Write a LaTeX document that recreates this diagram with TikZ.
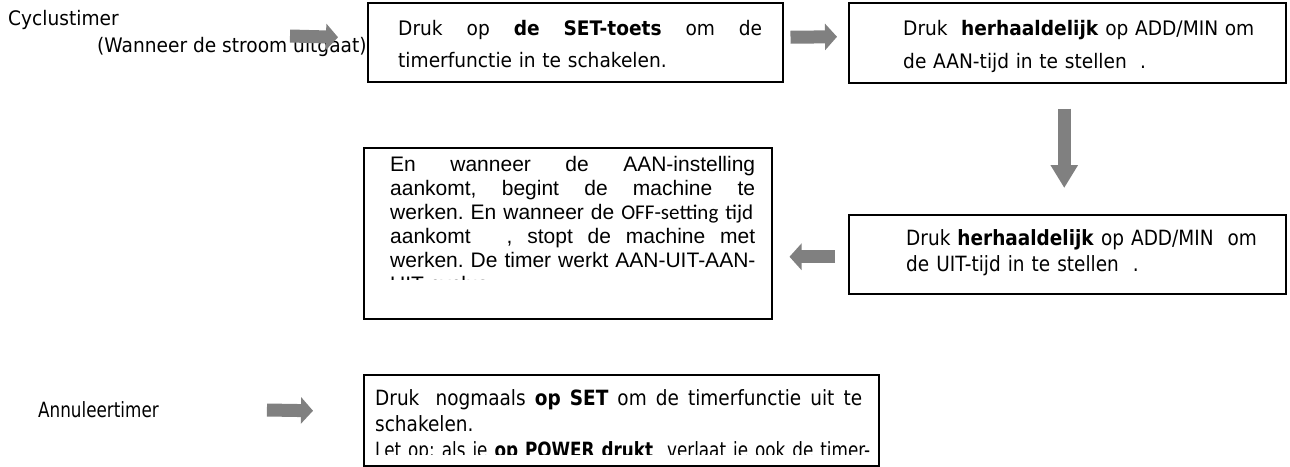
\documentclass[tikz,border=0pt]{standalone}
\usepackage{fontspec}
\setmainfont{Liberation Sans}
\newfontfamily\tahoma[FakeStretch=0.93]{DejaVu Sans}
\newfontfamily\tahomasmal[FakeStretch=0.88]{DejaVu Sans}
\newfontfamily\tahomasmaller[FakeStretch=0.80]{DejaVu Sans}
\newfontfamily\calibri{Carlito}
\usepackage{tikz}
\usetikzlibrary{arrows.meta,positioning}
\definecolor{pijlgrijs}{RGB}{128,128,128}
\newcommand{\jline}[2]{\leavevmode\hbox to #1{#2}}
\frenchspacing

\begin{document}
\begin{tikzpicture}[x=1pt, y=-1pt,
  box/.style={draw, line width=1.5pt, fill=white, anchor=north west, inner sep=0pt},
  txt/.style={anchor=north west, inner sep=0pt, align=left},
  lbl/.style={anchor=west, inner sep=0pt},
  pijl/.style={draw=pijlgrijs, line width=13pt, -{Triangle[length=12pt,width=26pt]}},
  pijlv/.style={draw=pijlgrijs, line width=13pt, -{Triangle[length=23pt,width=26pt]}}]

\useasboundingbox (0,0) rectangle (1290,466);

% Labels links
\node[lbl, font=\tahoma\fontsize{20}{24}\selectfont] (cycl) at (8,20) {Cyclustimer};
\node[lbl, font=\tahoma\fontsize{20}{24}\selectfont] (stroom) at (97,47) {(Wanneer de stroom uitgaat)};
\node[lbl, font=\tahomasmaller\fontsize{21}{24}\selectfont] (annul) at (38,410) {Annuleertimer};

% Kaders
\node[box, minimum width=415pt, minimum height=79pt] (setb) at (367,2) {};
\node[box, minimum width=437pt, minimum height=80pt] (aan) at (848,2) {};
\node[box, minimum width=437pt, minimum height=79pt] (uit) at (848,214) {};
\node[box, minimum width=408pt, minimum height=171pt] (werk) at (363,147) {};
\node[box, minimum width=515pt, minimum height=91pt] (annb) at (363,374) {};

% Teksten
\node[txt, text width=364pt, font=\tahoma\fontsize{20}{32}\selectfont] (settxt) at (398,20)
  {\jline{364pt}{Druk \hfill op \hfill \textbf{de \hfill SET-toets} \hfill om \hfill de}\\
   timerfunctie in te schakelen.};
\node[txt, text width=370pt, font=\tahoma\fontsize{20}{33}\selectfont] (aantxt) at (903,20)
  {Druk\ \ \textbf{herhaaldelijk} op ADD/MIN om\\ de AAN-tijd in te stellen\ \ .};
\node[txt, text width=370pt, font=\tahomasmal\fontsize{21}{26}\selectfont] (uittxt) at (906,229)
  {Druk \textbf{herhaaldelijk} op ADD/MIN\ \ om\\ de UIT-tijd in te stellen\ \ .};
\begin{scope}
  \clip (364,148) rectangle (770,279);
  \node[txt, text width=370pt, font=\fontsize{21}{24}\selectfont] (werktxt) at (390,156.5)
    {\jline{365pt}{En \hfill wanneer \hfill de \hfill AAN-instelling}\\
     \jline{365pt}{aankomt, \hfill begint \hfill de \hfill machine \hfill te}\\
     \mbox{werken. En wanneer de {\calibri OFF-setting tijd}}\\
     \jline{365pt}{aankomt\ \ \ \ \hfill , \hfill stopt \hfill de \hfill machine \hfill met}\\
     \mbox{werken. De timer werkt AAN-UIT-AAN-}\\
     UIT-cyclus.};
\end{scope}
\begin{scope}
  \clip (364,375) rectangle (877,454);
  \node[txt, text width=487pt, font=\tahomasmal\fontsize{21}{26}\selectfont] (annbtxt) at (375,389)
    {\jline{487pt}{Druk\ \ \hfill nogmaals \hfill \textbf{op \hfill SET} \hfill om \hfill de \hfill timerfunctie \hfill uit \hfill te}\\
     schakelen.\\
     {\tahomasmaller\jline{487pt}{Let op: als je \textbf{op POWER drukt}\ \ verlaat je ook de timer-}}};
\end{scope}

% Pijlen
\coordinate (p1) at (290,36);
\draw[pijl] (p1) -- ([shift={(-29,-5)}]setb.west);
\draw[pijl] ([shift={(7,-5)}]setb.east) -- ([shift={(-11,-6)}]aan.west);
\draw[pijlv] ([shift={(-3,25)}]aan.south) -- ([shift={(-3,-26)}]uit.north);
\draw[pijl] ([shift={(-13,2.5)}]uit.west) -- ([shift={(17,23.5)}]werk.east);
\draw[pijl] ([xshift=108pt]annul.east) -- ([shift={(-50,-9.5)}]annb.west);

\end{tikzpicture}
\end{document}
